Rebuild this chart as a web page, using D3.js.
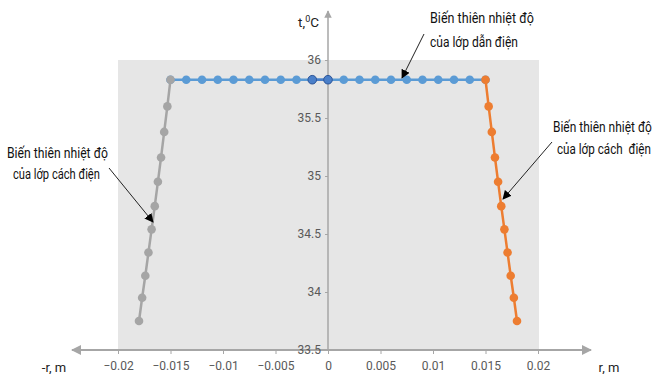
<!DOCTYPE html>
<html lang="vi">
  <head>
    <meta charset="utf-8">
    <title>Bien thien nhiet do</title>
    <script src="https://d3js.org/d3.v7.min.js"></script>
    <style>
      body { margin: 0; background: #fff; }
      text { font-family: "Liberation Sans Narrow", "Roboto", sans-serif; white-space: pre; }
    </style>
  </head>

  <body>

  <script>

  var w = 657;
  var h = 374;

  // data
  var conductorR = [-0.015, -0.0135, -0.012, -0.0105, -0.009, -0.0075, -0.006, -0.0045, -0.003, -0.0015, 0,
                    0.0015, 0.003, 0.0045, 0.006, 0.0075, 0.009, 0.0105, 0.012, 0.0135, 0.015];
  var conductorT = [35.83, 35.83, 35.83, 35.83, 35.83, 35.83, 35.83, 35.83, 35.83, 35.83, 35.83,
                    35.83, 35.83, 35.83, 35.83, 35.83, 35.83, 35.83, 35.83, 35.83, 35.83];
  var coreR = [-0.0015, 0];
  var coreT = [35.83, 35.83];
  var insulLeftR  = [-0.015, -0.0153, -0.0156, -0.0159, -0.0162, -0.0165, -0.0168, -0.0171, -0.0174, -0.0177, -0.018];
  var insulRightR = [0.015, 0.0153, 0.0156, 0.0159, 0.0162, 0.0165, 0.0168, 0.0171, 0.0174, 0.0177, 0.018];
  var insulT = [35.83, 35.60, 35.38, 35.16, 34.95, 34.74, 34.54, 34.34, 34.14, 33.95, 33.75];

  var xTicks = [-0.02, -0.015, -0.01, -0.005, 0, 0.005, 0.01, 0.015, 0.02];
  var yTicks = [33.5, 34, 34.5, 35, 35.5, 36];

  var svg = d3.select("body")
    .append("svg")
      .attr("width", w)
      .attr("height", h);

  var x = d3.scaleLinear().domain([-0.02, 0.02]).range([118, 538]);
  var y = d3.scaleLinear().domain([33.5, 36]).range([350, 60]);

  var axisColor = "#a6a6a6";
  var textColor = "#595959";

  // plot area
  svg.append("rect")
      .attr("x", x(-0.02))
      .attr("y", y(36))
      .attr("width", x(0.02) - x(-0.02) + 1)
      .attr("height", y(33.5) - y(36))
      .attr("fill", "#e6e6e6");

  var defs = svg.append("defs");
  defs.append("marker")
      .attr("id", "grayArrow")
      .attr("viewBox", "0 0 10 10")
      .attr("refX", 9).attr("refY", 5)
      .attr("markerWidth", 5).attr("markerHeight", 5)
      .attr("orient", "auto-start-reverse")
    .append("path")
      .attr("d", "M0,0 L10,5 L0,10 z")
      .attr("fill", axisColor);
  defs.append("marker")
      .attr("id", "blackArrow")
      .attr("viewBox", "0 0 10 10")
      .attr("refX", 9).attr("refY", 5)
      .attr("markerWidth", 9).attr("markerHeight", 9)
      .attr("markerUnits", "userSpaceOnUse")
      .attr("orient", "auto")
    .append("path")
      .attr("d", "M0,0 L10,5 L0,10 z")
      .attr("fill", "#000");

  // x axis (both ends arrowed)
  var xAxis = d3.axisBottom(x)
      .tickValues(xTicks)
      .tickSize(4)
      .tickFormat(d => d3.format("")(+d.toFixed(3)));
  var gx = svg.append("g")
      .attr("transform", "translate(0," + y(33.5) + ")")
      .call(xAxis);
  gx.select(".domain").remove();
  gx.selectAll(".tick line").attr("stroke", axisColor);
  gx.selectAll(".tick text")
      .attr("fill", textColor)
      .attr("font-size", 12)
      .attr("dy", "1.1em");

  svg.append("line")
      .attr("x1", 72).attr("x2", 591)
      .attr("y1", y(33.5)).attr("y2", y(33.5))
      .attr("stroke", axisColor)
      .attr("stroke-width", 2)
      .attr("marker-start", "url(#grayArrow)")
      .attr("marker-end", "url(#grayArrow)");

  // y axis through r = 0
  var yAxis = d3.axisLeft(y)
      .tickValues(yTicks)
      .tickSize(3)
      .tickFormat(d => d);
  var gy = svg.append("g")
      .attr("transform", "translate(" + x(0) + ",0)")
      .call(yAxis);
  gy.select(".domain").remove();
  gy.selectAll(".tick line").attr("stroke", axisColor);
  gy.selectAll(".tick text")
      .attr("fill", textColor)
      .attr("font-size", 12)
      .attr("x", -7);

  svg.append("line")
      .attr("x1", x(0)).attr("x2", x(0))
      .attr("y1", y(33.5)).attr("y2", 11)
      .attr("stroke", axisColor)
      .attr("stroke-width", 1.5)
      .attr("marker-end", "url(#grayArrow)");

  // axis titles
  svg.append("text").attr("x", 54).attr("y", 372)
      .attr("text-anchor", "middle").attr("font-size", 13).attr("fill", "#222")
      .text("-r, m");
  svg.append("text").attr("x", 609).attr("y", 372)
      .attr("text-anchor", "middle").attr("font-size", 13).attr("fill", "#222")
      .text("r, m");
  svg.append("text").attr("x", 319).attr("y", 27)
      .attr("text-anchor", "end").attr("font-size", 13.5).attr("fill", "#222")
      .html("t,<tspan dy='-5' font-size='9'>0</tspan><tspan dy='5'>C</tspan>");

  // series
  function series(rs, ts, color, stroke) {
    var pts = rs.map((r, i) => [r, ts[i]]);
    var line = d3.line().x(d => x(d[0])).y(d => y(d[1]));
    svg.append("path")
        .datum(pts)
        .attr("d", line)
        .attr("fill", "none")
        .attr("stroke", color)
        .attr("stroke-width", 2.5);
    svg.append("g").selectAll("circle")
      .data(pts)
      .enter().append("circle")
        .attr("cx", d => x(d[0]))
        .attr("cy", d => y(d[1]))
        .attr("r", 4.3)
        .attr("fill", color)
        .attr("stroke", stroke || "none")
        .attr("stroke-width", 1);
  }

  series(conductorR, conductorT, "#5b9bd5");
  series(coreR, coreT, "#4a7fc9", "#2f5597");
  series(insulLeftR, insulT, "#a5a5a5");
  series(insulRightR, insulT, "#ed7d31");

  // annotations: lines of [text, x, y, width]; narrow the font with a scale
  function note(lines, from, to) {
    lines.forEach(l => {
      var g = svg.append("g");
      var t = g.append("text")
          .attr("font-size", 14.5)
          .attr("fill", "#111")
          .text(l[0]);
      var k = l[3] / t.node().getComputedTextLength();
      g.attr("transform", "translate(" + l[1] + "," + l[2] + ") scale(" + k + ",1)");
    });
    svg.append("line")
        .attr("x1", from[0]).attr("y1", from[1])
        .attr("x2", to[0]).attr("y2", to[1])
        .attr("stroke", "#222")
        .attr("stroke-width", 1)
        .attr("marker-end", "url(#blackArrow)");
  }

  note([["Biến thiên nhiệt độ", 430, 23, 104], ["của lớp dẫn điện", 430, 47, 88]], [424, 34], [402, 78]);
  note([["Biến thiên nhiệt độ", 7, 158, 101], ["của lớp cách điện", 13, 179, 87]], [109, 168], [153, 222]);
  note([["Biến thiên nhiệt độ", 553, 132, 99], ["của lớp cách  điện", 557, 154, 94]], [552, 142], [503, 199]);

  </script>

  </body>

</html>
